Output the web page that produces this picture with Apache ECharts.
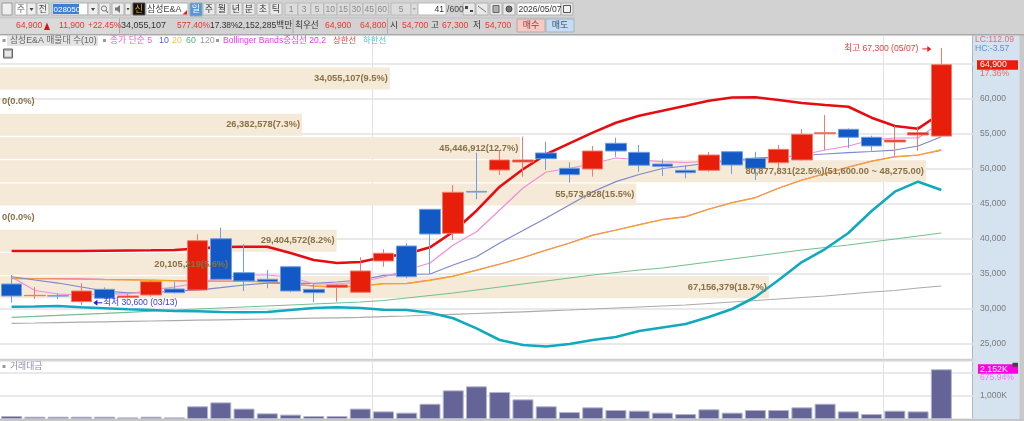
<!DOCTYPE html>
<html>
<head>
<meta charset="utf-8">
<style>html,body{margin:0;padding:0;background:#fff}#chart{width:1024px;height:421px}</style>
<script src="https://cdn.jsdelivr.net/npm/echarts@6/dist/echarts.min.js"></script>
</head>
<body>
<div id="chart"></div>
<script>
// Daily sessions, 2026
const dates = ['03/10','03/11','03/12','03/13','03/16','03/17','03/18','03/19','03/20','03/23','03/24','03/25','03/26','03/27','03/30','03/31',
  '04/01','04/02','04/03','04/06','04/07','04/08','04/09','04/10','04/13','04/14','04/15','04/16','04/17','04/20','04/21','04/22','04/23','04/24','04/27','04/28','04/29','04/30',
  '05/04','05/06','05/07',''];
const opens  = [33570,31900,31900,31050,32810,31650,32000,32860,32710,40040,35190,34240,36040,32810,33100,32390,36860,39000,44240,40810,46800,49860,51000,52290,50100,50000,53670,52380,50710,49810,49810,52470,51530,50900,51290,55040,55670,54530,53860,54860,54700];
const closes = [31860,31950,31850,32570,31530,31860,33900,32330,39760,34240,34000,33900,32570,32330,33430,35430,37960,34610,40710,46670,46700,51290,51290,51470,49190,52570,52570,50530,50380,49470,52000,50570,50100,52810,54960,55190,54530,53290,54140,55190,64900];
const lows   = [30900,31430,31430,30600,31430,31500,31760,32240,32710,34240,32570,32960,32400,30960,31040,32390,36040,34390,35000,39860,45670,49140,48900,49860,48040,48900,51760,49610,49000,48670,49610,49290,48430,50100,51190,52710,52960,52610,51900,52610,54700];
const highs  = [34850,33140,32240,33670,33100,32200,34140,33900,40670,41620,39290,35570,36100,33570,33570,37390,38530,39390,44240,47710,52330,52710,54620,53900,50960,53290,54470,53430,51390,50570,52430,52470,52470,53430,55710,57710,55810,54760,56140,56100,67300];

// Moving averages
const ma5   = [34570,32640,32140,32000,32210,32140,32710,33140,33710,34430,34860,34860,34570,33570,33570,33860,34570,35570,36570,39140,41040,44140,47290,49570,50070,50790,51570,51290,51040,50930,51140,51210,51290,51570,52000,52710,53290,54140,54430,54430,56710];
const ma10  = [34610,34140,33710,33140,32570,32290,32330,32570,32710,33040,33430,33710,33710,33670,33860,34140,34810,34930,35000,36290,37470,39430,41210,43000,44860,46760,48190,49210,50070,50430,50860,51210,51570,51710,51930,52140,52330,52500,52710,53290,54610];
const ma20  = [34340,34310,34280,34240,34190,34150,34090,34020,33950,33950,33950,33850,33590,33240,33090,33240,33590,33620,34090,34660,35520,36380,37310,38380,39380,40520,41240,42020,42740,43160,44240,45160,45880,47240,48380,49310,50240,51090,51710,51980,52790];
const ma60  = [28814,28943,29086,29229,29371,29529,29686,29857,30000,30143,30286,30429,30571,30714,30857,31000,31214,31571,31929,32286,32714,33143,33571,34000,34429,34857,35214,35571,35857,36286,36714,37143,37571,38000,38429,38786,39143,39571,40000,40429,40857];
const ma120 = [27957,28000,28057,28114,28171,28229,28286,28343,28400,28457,28514,28571,28629,28686,28743,28800,28900,29000,29143,29243,29357,29471,29600,29729,29857,30000,30143,30286,30429,30571,30786,31000,31214,31429,31643,31857,32143,32429,32643,33000,33286];

// Bollinger Bands 20,2
const bbMid   = [34390,34360,34330,34290,34240,34200,34140,34070,34000,34000,34000,33900,33640,33290,33140,33290,33640,33670,34140,34710,35570,36430,37360,38430,39430,40570,41290,42070,42790,43210,44290,45210,45930,47290,48430,49360,50290,51140,51760,52000,52640];
const bbUpper = [38286,38290,38290,38290,38330,38360,38390,38430,38640,38860,38900,38900,38000,37000,36570,36710,37430,37860,38810,41040,44040,47470,49960,52100,53670,55190,56610,57610,58330,59040,59760,60210,60240,59860,59430,59140,58900,57330,56140,55760,58000];
const bbLower = [30330,30360,30430,30240,30100,29960,29860,29710,29670,29570,29530,29570,29860,30140,30240,30140,29900,29860,29470,28670,27240,25570,24860,24640,25000,25570,26000,26860,27360,27860,28860,30000,31710,34140,36710,38570,40860,44000,46760,48190,47000];

// Traded value, in K
const turnover = [130,100,100,100,100,70,100,70,550,720,450,245,190,130,130,450,330,275,660,1240,1415,1170,850,550,300,505,390,360,275,215,420,275,390,390,505,660,330,215,360,330,2152];

// Volume-at-price profile, top row first
const profileVolume = [34055107,0,26382578,45446912,80877831,55573928,0,29404572,20105219,67156379];
const profileShare  = ['9.5','0.0','7.3','12.7','22.5','15.5','0.0','8.2','5.6','18.7'];
const profileRange  = ['','','','','(51,600.00 ~ 48,275.00)','','','','',''];
const profileRows   = ['r1','r2','r3','r4','r5','r6','r7','r8','r9','r10'];

const priceTicks = [25000,30000,35000,40000,45000,50000,55000,60000,65000];
const priceLabels = {25000:'25,000',30000:'30,000',35000:'35,000',40000:'40,000',45000:'45,000',50000:'50,000',55000:'55,000',60000:'60,000'};

const latin = '"Liberation Sans","Noto Sans CJK KR",sans-serif';
const gridGrey = '#e2e2e2';
const isMonthStart = i => i > 0 && dates[i] && dates[i].slice(0, 2) !== dates[i - 1].slice(0, 2);

const chart = echarts.init(document.getElementById('chart'), null, {renderer: 'canvas'});

const thinLine = (name, data, color, width, z) => ({
  name, type: 'line', data, xAxisIndex: 0, yAxisIndex: 0, symbol: 'none', smooth: false, z,
  silent: true, animation: false, lineStyle: {color, width}
});

const categoryAxis = gridIndex => ({
  type: 'category', gridIndex, data: dates, boundaryGap: true,
  axisLine: {show: false}, axisTick: {show: false}, axisLabel: {show: false},
  splitLine: {show: true, interval: isMonthStart, lineStyle: {color: gridGrey, width: 1}}
});

chart.setOption({
  animation: false,
  backgroundColor: '#ffffff',
  grid: [
    {left: -0.3, width: 976.5, top: 36, height: 322},
    {left: -0.3, width: 976.5, top: 361, height: 58},
    {left: 0, width: 973, top: 66.8, height: 232}
  ],
  xAxis: [
    categoryAxis(0),
    categoryAxis(1),
    {type: 'value', gridIndex: 2, min: 0, max: 84986000, show: false}
  ],
  yAxis: [
    {type: 'value', gridIndex: 0, position: 'right', offset: -3.2, min: 23000, max: 69000,
     axisLine: {show: false},
     axisTick: {show: false, customValues: priceTicks},
     axisLabel: {customValues: priceTicks, formatter: v => priceLabels[v] || '', margin: 7,
                 color: '#7b7b7b', fontFamily: latin, fontSize: 8.5},
     splitLine: {show: true, lineStyle: {color: gridGrey, width: 1.5}}},
    {type: 'value', gridIndex: 1, position: 'right', offset: -3.2, min: 0, max: 2510, interval: 1000,
     axisLine: {show: false}, axisTick: {show: false},
     axisLabel: {formatter: v => v === 1000 ? '1,000K' : '', margin: 7, color: '#7b7b7b', fontFamily: latin, fontSize: 8.5},
     splitLine: {show: true, lineStyle: {color: gridGrey, width: 1.5}}},
    {type: 'category', gridIndex: 2, data: profileRows, inverse: true, show: false}
  ],
  series: [
    {name: 'profile', type: 'bar', xAxisIndex: 2, yAxisIndex: 2, data: profileVolume, z: 1, silent: true,
     barCategoryGap: '5%', itemStyle: {color: '#f5e9d8'}},
    thinLine('ma120', ma120, '#ababab', 1.2, 3),
    thinLine('ma60', ma60, '#74c08f', 1.2, 3),
    thinLine('bbMid', bbMid, '#e86ad8', 1.2, 3),
    thinLine('ma20', ma20, '#f4a81c', 1.1, 3),
    thinLine('ma10', ma10, '#7c88cf', 1.2, 3),
    thinLine('ma5', ma5, '#f28bdc', 1.2, 3),
    thinLine('bbUpper', bbUpper, '#e60c10', 2.6, 3),
    thinLine('bbLower', bbLower, '#10a9bd', 2.6, 3),
    {name: 'price', type: 'candlestick', xAxisIndex: 0, yAxisIndex: 0, z: 4, silent: true, barWidth: 21,
     data: opens.map((o, i) => [o, closes[i], lows[i], highs[i]]),
     itemStyle: {color: '#e71e0a', color0: '#1259c6', borderColor: '#f07a6c', borderColor0: '#6f9fe2', borderWidth: 1}},
    {name: 'turnover', type: 'bar', xAxisIndex: 1, yAxisIndex: 1, data: turnover, z: 3, silent: true, barWidth: 21,
     itemStyle: {color: '#646496', borderColor: '#b4b4cf', borderWidth: 1}},
    {name: 'profileLabels', type: 'bar', xAxisIndex: 2, yAxisIndex: 2, z: 6, silent: true, barGap: '-100%',
     barCategoryGap: '5%', itemStyle: {color: 'transparent'},
     data: profileVolume.map((v, i) => ({
       value: v,
       label: {
         show: true, position: v === 0 ? 'insideLeft' : 'insideRight', distance: 2,
         formatter: v.toLocaleString('en-US') + '(' + profileShare[i] + '%)' + profileRange[i],
         color: '#8a7146', fontFamily: latin, fontSize: 9.3, fontWeight: 'bold'
       }
     }))}
  ]
});

// Toolbar, legend and side panel furniture
const ui = [];
const rect = (x, y, w, h, fill, stroke, z) => ui.push({type: 'rect', z: z === undefined ? 20 : z, silent: true,
  shape: {x, y, width: w, height: h}, style: {fill, stroke: stroke || null, lineWidth: stroke ? 1 : 0}});
const label = (x, y, text, color, size, align) => ui.push({type: 'text', z: 21, silent: true, x, y,
  style: {text, fill: color, fontSize: size || 8.6, fontFamily: latin, align: align || 'left', verticalAlign: 'middle'}});
const tri = (pts, fill, z) => ui.push({type: 'polygon', z: z === undefined ? 21 : z, silent: true, shape: {points: pts}, style: {fill}});

rect(0, 0, 1024, 35, '#d2d2d2');
rect(0, 34, 1024, 1.5, '#a9a9a9');
rect(0, 17.5, 575, 0.8, '#bcbcbc');

// First toolbar row
rect(2, 3, 10, 12, '#efefef', '#9a9a9a');
rect(15, 3, 12, 12, '#ffffff', '#b0b0b0'); label(21, 9.5, '주', '#666', 9, 'center');
rect(27, 3, 9, 12, '#eeeeee', '#b0b0b0'); tri([[29.5, 8], [33.5, 8], [31.5, 11]], '#444');
rect(37, 3, 12, 12, '#eeeeee', '#b0b0b0'); label(43, 9.5, '전', '#444', 9, 'center');
rect(52, 3, 36, 12, '#ffffff', '#b0b0b0'); rect(53, 4, 26, 10, '#3d7fd6');
label(53.5, 9.5, '028050', '#ffffff', 8);
rect(88, 3, 10, 12, '#eeeeee', '#b0b0b0'); tri([[91, 8], [95, 8], [93, 11]], '#444');
rect(99, 3, 11, 12, '#eeeeee', '#b0b0b0');
ui.push({type: 'circle', z: 21, silent: true, shape: {cx: 104, cy: 8.5, r: 2.6}, style: {fill: null, stroke: '#777', lineWidth: 1}});
ui.push({type: 'line', z: 21, silent: true, shape: {x1: 106, y1: 10.5, x2: 108, y2: 12.8}, style: {stroke: '#777', lineWidth: 1.2}});
rect(112, 3, 12, 12, '#eeeeee', '#b0b0b0'); tri([[115, 7.5], [117, 7.5], [120, 5], [120, 13], [117, 10.5], [115, 10.5]], '#777');
rect(125, 3, 6, 12, '#eeeeee', '#b0b0b0'); tri([[126.5, 8], [129.5, 8], [128, 10.5]], '#444');
rect(133, 3, 12, 12, '#111111', '#555'); label(139, 9.5, '신', '#f0a040', 9, 'center');
rect(146, 3, 42, 12, '#ffffff', '#b0b0b0'); label(147, 9.5, '삼성E&A', '#444', 9);
tri([[187, 10], [187, 14.5], [182.5, 14.5]], '#e02020');
rect(190, 3, 12, 13, '#5b94d4', '#8ab'); label(196, 9.5, '일', '#ffffff', 9, 'center');
[[203, '주'], [216, '월'], [230, '년'], [243, '분'], [257, '초'], [270, '틱']].forEach(([x, t]) => {
  rect(x, 3, 12, 12, '#e9e9e9', '#b5b5b5'); label(x + 6, 9.5, t, '#333', 9, 'center');
});
[[285, '1'], [298, '3'], [311, '5'], [324, '10'], [337, '15'], [350, '30'], [363, '45'], [376, '60']].forEach(([x, t]) => {
  rect(x, 3, 12.5, 12, '#dcdcdc', '#bcbcbc'); label(x + 6.2, 9.5, t, '#8a8a8a', 8.5, 'center');
});
rect(391, 3, 20, 12, '#dcdcdc', '#bcbcbc'); label(401, 9.5, '5', '#8a8a8a', 8.5, 'center');
rect(411, 3, 7, 12, '#dcdcdc', '#bcbcbc'); tri([[412.5, 8], [416, 8], [414.2, 10.5]], '#aaa');
rect(418, 3, 28, 12, '#ffffff', '#b8b8b8'); label(444, 9.5, '41', '#333', 8.6, 'right');
label(447, 9.5, '/600', '#444', 8.6);
[463, 476, 490, 503].forEach(x => rect(x, 3, 12, 12, '#e9e9e9', '#b0b0b0'));
rect(465, 6, 3, 3, '#444'); rect(470, 10, 3, 2, '#444');
ui.push({type: 'line', z: 21, silent: true, shape: {x1: 478, y1: 6, x2: 486, y2: 12}, style: {stroke: '#777', lineWidth: 1}});
rect(493, 5.5, 6, 7, '#aab0b8', '#666');
ui.push({type: 'circle', z: 21, silent: true, shape: {cx: 509, cy: 9, r: 3}, style: {fill: '#777', stroke: '#444', lineWidth: 1}});
rect(517, 3, 44, 12, '#ffffff', '#b0b0b0'); label(518.5, 9.5, '2026/05/07', '#333', 8.6);
rect(561, 3, 12, 12, '#e9e9e9', '#b0b0b0'); rect(563.5, 5.5, 7, 7, '#f4f4f4', '#555');

// Quote row
const red = '#e8382e';
rect(0, 18.5, 119, 15, '#dadada');
label(16, 26, '64,900', red, 8.6); tri([[44, 30], [50, 30], [47, 22.5]], '#d91414');
label(59, 26, '11,900', red, 8.6); label(88, 26, '+22.45%', red, 8.4);
rect(119, 18.5, 1, 15, '#aaaaaa');
label(121, 26, '34,055,107', '#333', 9);
label(177, 26, '577.40%', red, 8.4);
label(210, 26, '17.38%', '#333', 8.4);
label(238, 26, '2,152,285백만', '#333', 8.6);
rect(292.5, 18.5, 1, 15, '#aaaaaa');
label(295, 26, '최우선', '#333', 8.6);
label(325, 26, '64,900', red, 8.6); label(360, 26, '64,800', red, 8.6);
rect(387, 18.5, 1, 15, '#aaaaaa');
label(390, 26, '시', '#333', 8.6); label(402, 26, '54,700', red, 8.6);
label(431, 26, '고', '#333', 8.6); label(442, 26, '67,300', red, 8.6);
label(473, 26, '저', '#333', 8.6); label(485, 26, '54,700', red, 8.6);
rect(517, 19, 28, 13, '#f6c9c3', '#b9a8a6'); label(531, 25.5, '매수', '#8a4040', 9, 'center');
rect(546, 19, 28, 13, '#c6dcf3', '#a2b2c2'); label(560, 25.5, '매도', '#34506e', 9, 'center');

// Indicator legend
rect(7, 36, 91, 10, '#e4e4e4', null, 18);
rect(2.5, 39, 3, 3, '#9a9a9a'); label(10, 41, '삼성E&A 매물대 수(10)', '#666', 8.8);
rect(103, 39, 3, 3, '#9a9a9a'); label(110, 41, '종가 단순 5', '#ee5fd0', 8.8);
label(159, 41, '10', '#5a62d0', 8.8); label(172, 41, '20', '#f4be55', 8.8);
label(186, 41, '60', '#4fb37e', 8.8); label(200, 41, '120', '#a0a0a0', 8.8);
rect(216, 39, 3, 3, '#9a9a9a');
label(223, 41, 'Bollinger Bands중심선 20,2', '#e83cf0', 8.6);
label(333, 41, '상한선', '#ee4040', 8.4); label(363, 41, '하한선', '#48c4d4', 8.4);
rect(3.5, 49, 9, 9, '#b0b0b0', '#666');
rect(5, 51, 6, 5.5, '#e8e8e8');

// Side panel behind the price scale
rect(973, 35, 47, 386, '#d5e2f0', null, -1);
rect(972, 35, 1, 386, '#b3b9c0', null, -1);
rect(1019.5, 35, 4.5, 386, '#c9c9c9', null, -1);
label(975, 40, 'LC:112.09', '#e87070', 8.6);
label(975, 48.5, 'HC:-3.57', '#5b8fe0', 8.6);

// Pane divider and volume pane title
rect(0, 358.8, 973, 2, '#cfcfcf', null, 5);
rect(0, 419, 1024, 2, '#c6c6c6', null, 5);
rect(2.5, 365, 3, 3, '#9a9a9a'); label(10, 366.5, '거래대금', '#8c8cbd', 8.8);

// Last value tags, anchored to the scales
const lastPriceY = chart.convertToPixel({yAxisIndex: 0}, closes[closes.length - 1]);
rect(977, lastPriceY - 4.5, 41, 9.5, '#e71e0a');
label(980, lastPriceY + 0.3, '64,900', '#ffffff', 8.8);
label(980, lastPriceY + 9, '17.36%', '#ee6a60', 8.6);
const lastTurnY = chart.convertToPixel({yAxisIndex: 1}, turnover[turnover.length - 1]);
rect(978, lastTurnY - 5, 40, 9.5, '#ff00e6');
label(980, lastTurnY - 0.2, '2,152K', '#ffffff', 8.8);
label(980, lastTurnY + 8, '675.94%', '#f27cf0', 8.6);
rect(1012.5, lastTurnY - 6.5, 5.5, 4, '#444444');

// High and low call-outs
const hiIdx = highs.indexOf(Math.max(...highs));
const loIdx = lows.indexOf(Math.min(...lows));
const [hiX, hiY] = chart.convertToPixel({xAxisIndex: 0, yAxisIndex: 0}, [hiIdx, highs[hiIdx]]);
const [loX, loY] = chart.convertToPixel({xAxisIndex: 0, yAxisIndex: 0}, [loIdx, lows[loIdx]]);
label(hiX - 23, hiY + 1, '최고 67,300 (' + dates[hiIdx] + ')', '#e9413c', 8.6, 'right');
rect(hiX - 19, hiY + 0.5, 7, 1, '#e02020'); tri([[hiX - 14, hiY - 2], [hiX - 10, hiY + 1], [hiX - 14, hiY + 4]], '#e02020');
tri([[loX + 12, loY - 2], [loX + 16, loY - 5], [loX + 16, loY + 1]], '#1a1ae0');
rect(loX + 15, loY - 2.5, 6, 1, '#1a1ae0');
label(loX + 22, loY - 2, '최저 30,600 (' + dates[loIdx] + ')', '#3a3ae0', 8.6);

chart.setOption({graphic: {elements: ui}});
</script>
</body>
</html>
